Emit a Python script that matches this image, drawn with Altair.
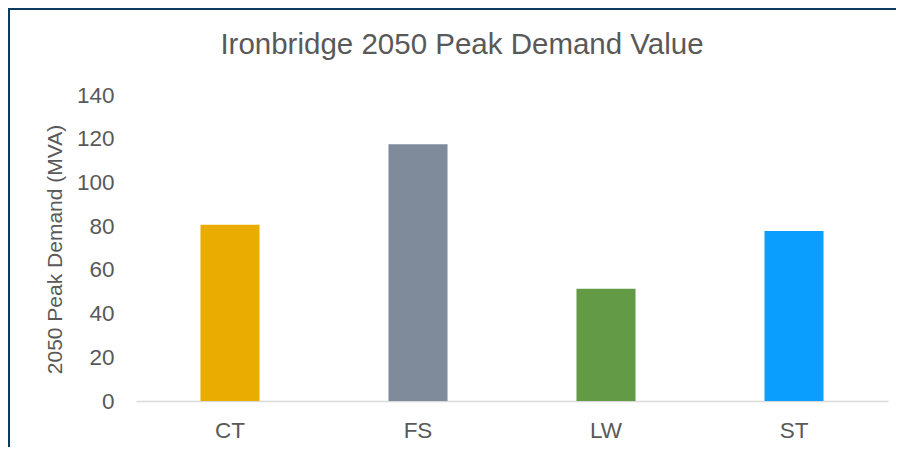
import altair as alt
import pandas as pd

categories = ["CT", "FS", "LW", "ST"]
values = [80.6, 117.5, 51.4, 77.8]
colors = ["#EBAC00", "#7F8A9B", "#629A46", "#0A9EFF"]
y_ticks = [0, 20, 40, 60, 80, 100, 120, 140]

df = pd.DataFrame({"cat": categories, "val": values})

W, H = 752, 306
PL, PT, PR, PB = 128, 87, 8, 46

bars = alt.Chart(df).mark_bar().encode(
    x=alt.X("cat:N", sort=categories,
            scale=alt.Scale(paddingInner=0.686, paddingOuter=0.343),
            axis=alt.Axis(title=None, labelAngle=0, domain=True, domainColor="#D9D9D9",
                          domainWidth=1.5, ticks=False, labelFontSize=22.5,
                          labelColor="#595959", labelPadding=18,
                          labelFont="Liberation Sans")),
    y=alt.Y("val:Q", scale=alt.Scale(domain=[0, 140], nice=False),
            axis=alt.Axis(title="2050 Peak Demand (MVA)", values=y_ticks, grid=False,
                          domain=False, ticks=False, labelFontSize=22.5,
                          labelColor="#595959", labelPadding=22,
                          labelFont="Liberation Sans",
                          titleFont="Liberation Sans", titleFontSize=21,
                          titleFontWeight="normal", titleColor="#595959",
                          titleX=-81, titleY=154, titleAngle=-90,
                          titleAlign="center", titleBaseline="middle")),
    color=alt.Color("cat:N", scale=alt.Scale(domain=categories, range=colors), legend=None),
)

left_border = alt.Chart(df).mark_rule(color="#0D3B5E", strokeWidth=2).encode(
    x=alt.value(-PL + 1), y=alt.value(-PT), y2=alt.value(H + PB)
)
top_border = alt.Chart(df).mark_rule(color="#0D3B5E", strokeWidth=2).encode(
    x=alt.value(-PL), x2=alt.value(W + PR), y=alt.value(-PT + 1)
)

chart = alt.layer(bars, left_border, top_border).properties(
    width=W, height=H,
    title=alt.TitleParams("Ironbridge 2050 Peak Demand Value", font="Liberation Sans",
                          fontSize=29.5, fontWeight="normal", color="#595959",
                          anchor="middle", dx=-50, offset=0, dy=53),
    autosize=alt.AutoSizeParams(type="none"),
    padding={"left": PL, "top": PT, "right": PR, "bottom": PB},
).configure_view(stroke=None)

chart.save("out.html", embed_options={"renderer": "svg", "actions": False})
